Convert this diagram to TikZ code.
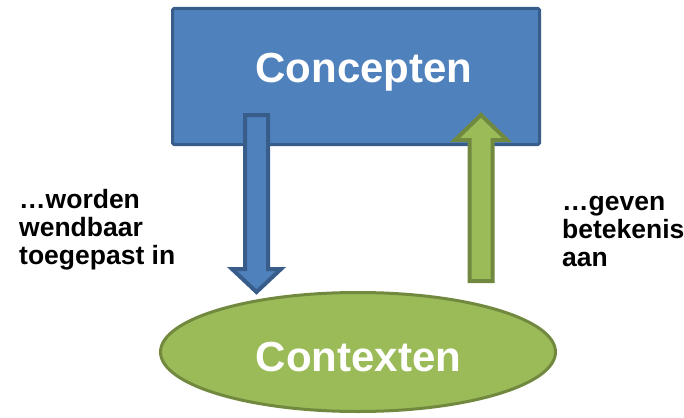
\documentclass[tikz,border=0pt]{standalone}
\usepackage{fontspec}
\setmainfont{Liberation Sans}
\usetikzlibrary{calc}
\definecolor{bluefill}{HTML}{4F81BD}
\definecolor{blueline}{HTML}{385D8A}
\definecolor{greenfill}{HTML}{9BBB59}
\definecolor{greenline}{HTML}{71893F}
\begin{document}
\begin{tikzpicture}[x=1pt,y=-1pt,
  bigtext/.style={text=white,font=\fontsize{42}{48}\selectfont\bfseries,inner sep=0pt},
  sidetext/.style={font=\fontsize{26.5}{28}\selectfont\bfseries,inner sep=0pt,align=left},
  bluearrow/.style={fill=bluefill,draw=blueline,line width=4pt,line join=miter},
  greenarrow/.style={fill=greenfill,draw=greenline,line width=4pt,line join=miter}]
\useasboundingbox (0,0) rectangle (684,417);
% box
\node[draw=blueline,fill=bluefill,line width=3pt,rounded corners=1.5pt,
      minimum width=367pt,minimum height=136pt,inner sep=0pt] (box) at (356,76.5) {};
\node[bigtext,anchor=base] (concepten) at (364,83) {Concepten};
% ellipse
\draw[draw=greenline,fill=greenfill,line width=3pt] (358,352) ellipse [x radius=197.5,y radius=59.5];
\coordinate (ell) at (358,352);
\node[bigtext,anchor=base] (contexten) at (358.5,371) {Contexten};
% down arrow
\coordinate (dtop) at (256.5,115);
\coordinate (dtip) at (256.5,292);
\draw[bluearrow] ($(dtop)+(-11.5,0)$) -- ($(dtop)+(11.5,0)$) -- (268,269) -- (281,269) -- (dtip) -- (232,269) -- (245,269) -- cycle;
% up arrow
\coordinate (ubot) at (481,281);
\coordinate (utip) at (481,115);
\draw[greenarrow] (469.5,281) -- (492.5,281) -- (492.5,140) -- (507,140) -- (utip) -- (455,140) -- (469.5,140) -- cycle;
% side texts
\node[sidetext,anchor=base west] (left) at (19,264) {…worden\\wendbaar\\toegepast in};
\node[sidetext,anchor=base west] (right) at (562,266) {…geven\\betekenis\\aan};
\end{tikzpicture}
\end{document}
